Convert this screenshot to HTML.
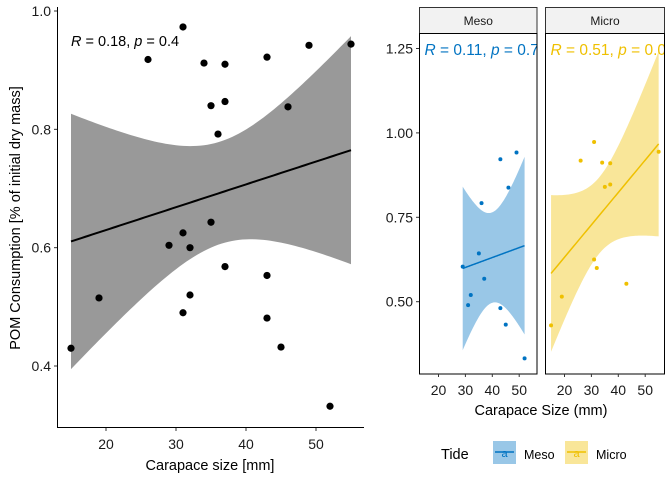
<!DOCTYPE html>
<html><head><meta charset="utf-8"><style>
body{margin:0;background:#fff}
svg{display:block;font-family:"Liberation Sans",Arial,sans-serif}
</style></head><body>
<svg id="chart" width="672" height="480" viewBox="0 0 672 480"></svg>
<script>
const mesoX=[29,31,32,35,36,37,43,43,45,46,49,52];
const mesoY=[0.604,0.49,0.52,0.643,0.792,0.568,0.922,0.481,0.432,0.838,0.942,0.332];
const microX=[15,19,26,31,31,32,34,35,37,37,43,55];
const microY=[0.43,0.515,0.918,0.973,0.625,0.6,0.912,0.84,0.91,0.847,0.553,0.944];
const leftYTicks=[0.4,0.6,0.8,1.0];
const leftXTicks=[20,30,40,50];
const rightYTicks=[0.50,0.75,1.00,1.25];
const rightXTicks=[20,30,40,50];

const NS="http://www.w3.org/2000/svg";
const svg=document.getElementById('chart');
function mk(tag,attrs,parent,text){const e=document.createElementNS(NS,tag);for(const k in attrs)e.setAttribute(k,attrs[k]);if(text!==undefined)e.textContent=text;(parent||svg).appendChild(e);return e;}
function tq(df){const t={10:2.228,22:2.074};return t[df]||2.0;}
function fit(xs,ys){const n=xs.length;const mx=xs.reduce((a,b)=>a+b)/n,my=ys.reduce((a,b)=>a+b)/n;let sxx=0,sxy=0;for(let i=0;i<n;i++){sxx+=(xs[i]-mx)**2;sxy+=(xs[i]-mx)*(ys[i]-my);}const b=sxy/sxx,a=my-b*mx;let sse=0;for(let i=0;i<n;i++)sse+=(ys[i]-a-b*xs[i])**2;const s=Math.sqrt(sse/(n-2));return {a,b,mx,sxx,s,n,t:tq(n-2),min:Math.min(...xs),max:Math.max(...xs)};}
function drawFit(g,f,sx,sy,fill,op,line,lw){const up=[],lo=[],ln=[];for(let k=0;k<=80;k++){const x=f.min+(f.max-f.min)*k/80;const y=f.a+f.b*x;const se=f.s*Math.sqrt(1/f.n+(x-f.mx)**2/f.sxx);up.push(sx(x)+','+sy(y+f.t*se));lo.unshift(sx(x)+','+sy(y-f.t*se));ln.push(sx(x)+','+sy(y));}
 const band=mk('polygon',{points:up.concat(lo).join(' '),fill:fill,'fill-opacity':op},g);
 const l=mk('polyline',{points:ln.join(' '),fill:'none',stroke:line,'stroke-width':lw},g);}

// LEFT PANEL
const lx=v=>106+(v-20)*7, ly=v=>366-(v-0.4)*(355/0.6);
const gl=mk('g',{});
const allX=mesoX.concat(microX), allY=mesoY.concat(microY);
drawFit(gl,fit(allX,allY),lx,ly,'#999999',1,'#000',2);
allX.forEach((x,i)=>{const c=mk('circle',{cx:lx(x),cy:ly(allY[i]),r:3.6,fill:'#000'},gl);});
mk('line',{x1:57.5,y1:7,x2:57.5,y2:427,stroke:'#000','stroke-width':1},gl);
mk('line',{x1:57,y1:427.5,x2:364,y2:427.5,stroke:'#000','stroke-width':1},gl);
leftYTicks.forEach(v=>{mk('line',{x1:54,x2:57,y1:ly(v),y2:ly(v),stroke:'#333'},gl);const t=mk('text',{x:51,y:ly(v)+5,'text-anchor':'end','font-size':14,fill:'#1a1a1a'},gl,v.toFixed(1));});
leftXTicks.forEach(v=>{mk('line',{x1:lx(v),x2:lx(v),y1:428,y2:431,stroke:'#333'},gl);const t=mk('text',{x:lx(v),y:449,'text-anchor':'middle','font-size':14,fill:'#1a1a1a'},gl,v);});
let t=mk('text',{x:210,y:470,'text-anchor':'middle','font-size':14.5,fill:'#000'},gl,'Carapace size [mm]');
t=mk('text',{x:0,y:0,'text-anchor':'middle','font-size':14.5,fill:'#000',transform:'translate(20,218) rotate(-90)'},gl,'POM Consumption [% of initial dry mass]');
t=mk('text',{x:71,y:46,'font-size':14.5,fill:'#000'},gl);t.innerHTML='<tspan font-style="italic">R</tspan> = 0.18, <tspan font-style="italic">p</tspan> = 0.4';

// RIGHT PANELS
const ry=v=>301.7-(v-0.5)*(84.4/0.25);
const panels=[{name:'Meso',x0:419.5,x1:537,xs:mesoX,ys:mesoY,col:'#0073C2',lab:'= 0.11, ',pv:'= 0.74'},
 {name:'Micro',x0:545.5,x1:664.5,xs:microX,ys:microY,col:'#EFC000',lab:'= 0.51, ',pv:'= 0.08'}];
panels.forEach((p,pi)=>{
 const sx=v=>p.x0+(438.3-419.3)+(v-20)*(80.7/30);
 const g=mk('g',{});
 mk('clipPath',{id:'cp'+pi},g);mk('rect',{x:p.x0,y:33,width:p.x1-p.x0,height:341},document.getElementById('cp'+pi));
 const inner=mk('g',{'clip-path':'url(#cp'+pi+')'},g);
 drawFit(inner,fit(p.xs,p.ys),sx,ry,p.col,0.4,p.col,1.5);
 p.xs.forEach((x,i)=>{const c=mk('circle',{cx:sx(x),cy:ry(p.ys[i]),r:2,fill:p.col},inner);});
 t=mk('text',{x:p.x0+5,y:55,'font-size':15.5,fill:p.col},inner);t.innerHTML='<tspan font-style="italic">R</tspan> '+p.lab+'<tspan font-style="italic">p</tspan> '+p.pv;
 const s=mk('rect',{x:p.x0,y:7.5,width:p.x1-p.x0,height:26,fill:'#f2f2f2',stroke:'#333','stroke-width':1},g);
 t=mk('text',{x:(p.x0+p.x1)/2,y:25,'text-anchor':'middle','font-size':12,fill:'#1a1a1a'},g,p.name);
 mk('rect',{x:p.x0,y:33.5,width:p.x1-p.x0,height:340.5,fill:'none',stroke:'#000','stroke-width':1},g);
 rightXTicks.forEach(v=>{mk('line',{x1:sx(v),x2:sx(v),y1:374,y2:377,stroke:'#333'},g);const tt=mk('text',{x:sx(v),y:395,'text-anchor':'middle','font-size':14,fill:'#1a1a1a'},g,v);});
});
rightYTicks.forEach(v=>{mk('line',{x1:416,x2:419,y1:ry(v),y2:ry(v),stroke:'#333'});t=mk('text',{x:413,y:ry(v)+5,'text-anchor':'end','font-size':14,fill:'#1a1a1a'},undefined,v.toFixed(2));});
t=mk('text',{x:541,y:415,'text-anchor':'middle','font-size':14.5,fill:'#000'},undefined,'Carapace Size (mm)');

// LEGEND
const lg=mk('g',{});
t=mk('text',{x:441,y:459,'font-size':14.5,fill:'#000'},lg,'Tide');
[[493,'#0073C2','Meso',524],[565,'#EFC000','Micro',596]].forEach(([x,c,n,tx])=>{
 const k=mk('g',{},lg);
 mk('rect',{x:x,y:441,width:23,height:23,fill:c,'fill-opacity':0.4},k);
 mk('line',{x1:x+2,x2:x+21,y1:452,y2:452,stroke:c,'stroke-width':1.5},k);
 mk('text',{x:x+11.5,y:457,'text-anchor':'middle','font-size':11,fill:c},k,'a');
 mk('text',{x:tx,y:459,'font-size':12.5,fill:'#000'},k,n);
});
</script>
</body></html>
